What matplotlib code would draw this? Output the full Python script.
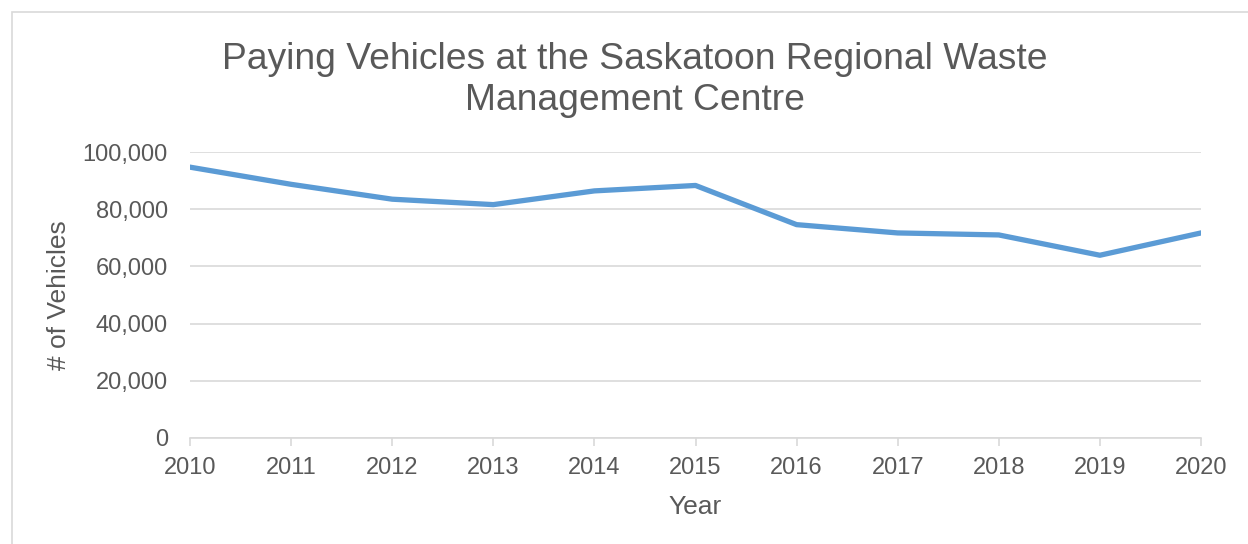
import matplotlib.pyplot as plt
from matplotlib.patches import Rectangle
from matplotlib.ticker import FuncFormatter

years = [2010, 2011, 2012, 2013, 2014, 2015, 2016, 2017, 2018, 2019, 2020]
vehicles = [94700, 88700, 83500, 81600, 86400, 88300, 74600, 71700, 71000, 63900, 71700]

text_col = "#595959"
grid_col = "#D9D9D9"

plt.rcParams["font.family"] = ["Liberation Sans", "DejaVu Sans"]

fig = plt.figure(figsize=(12.48, 5.44), dpi=100)
# chart border
fig.patches.append(Rectangle((12 / 1248, -0.1), 1.2, 1 - 12 / 544 + 0.1,
                             transform=fig.transFigure, fill=False,
                             edgecolor=grid_col, linewidth=1.2))

ax = fig.add_axes([190 / 1248, 1 - 438 / 544, (1201 - 190) / 1248, (438 - 152) / 544])
ax.plot(years, vehicles, color="#5B9BD5", linewidth=3.8, solid_joinstyle="round")

ax.set_xlim(2010, 2020)
ax.set_ylim(0, 100000)
ax.set_xticks(years)
ax.set_yticks(range(0, 100001, 20000))
ax.yaxis.set_major_formatter(FuncFormatter(lambda v, p: f"{int(v):,}"))
ax.grid(axis="y", color=grid_col, linewidth=1.2)
ax.set_axisbelow(True)

for s in ["top", "right", "left"]:
    ax.spines[s].set_visible(False)
ax.spines["bottom"].set_color(grid_col)
ax.spines["bottom"].set_linewidth(1.2)
ax.tick_params(axis="x", colors=grid_col, length=6, width=1.2, labelcolor=text_col,
               labelsize=17, pad=8)
ax.tick_params(axis="y", length=0, labelcolor=text_col, labelsize=17, pad=16)

ax.set_xlabel("Year", color=text_col, fontsize=19, labelpad=11)
ax.set_ylabel("# of Vehicles", color=text_col, fontsize=19, labelpad=8)

fig.text(635 / 1248, 1 - 80 / 544, "Paying Vehicles at the Saskatoon Regional Waste\nManagement Centre",
         ha="center", va="center", fontsize=26.8, color=text_col, linespacing=1.25)

fig.savefig("out.png", dpi=100)
